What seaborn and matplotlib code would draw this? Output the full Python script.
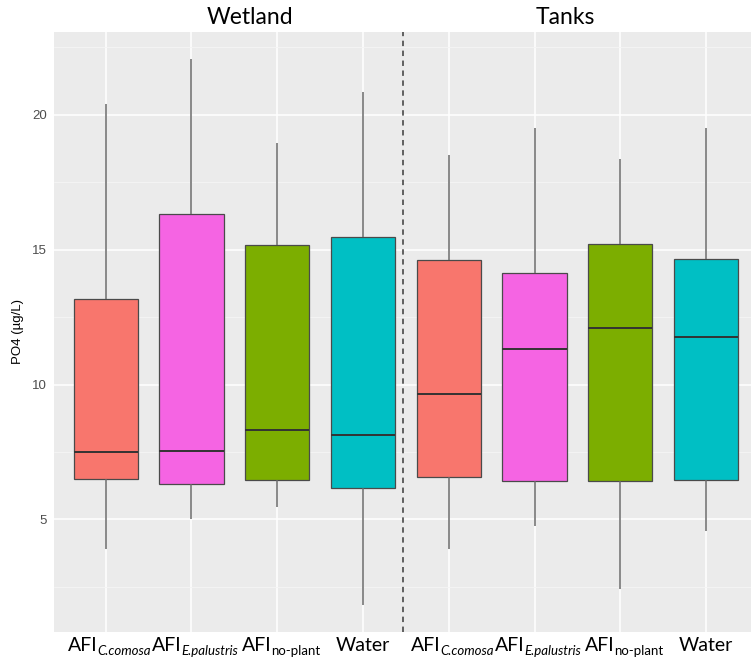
import numpy as np
import pandas as pd
import matplotlib
matplotlib.use("Agg")
import matplotlib.pyplot as plt
from matplotlib.ticker import MultipleLocator
from matplotlib.transforms import ScaledTranslation
import seaborn as sns

# PO4 concentration summaries (µg/L) per treatment, wetland and tank systems
systems = ["Wetland"] * 4 + ["Tanks"] * 4
treatments = ["C.comosa", "E.palustris", "no-plant", "Water"] * 2
lower = [3.91, 5.01, 5.45, 1.82, 3.91, 4.77, 2.41, 4.57]
q1 = [6.50, 6.31, 6.46, 6.15, 6.56, 6.43, 6.41, 6.46]
median = [7.49, 7.54, 8.32, 8.15, 9.67, 11.32, 12.11, 11.75]
q3 = [13.16, 16.31, 15.16, 15.47, 14.63, 14.14, 15.23, 14.65]
upper = [20.39, 22.06, 18.94, 20.84, 18.53, 19.52, 18.35, 19.53]

# tick label parts: main text, subscript, subscript style
label_main = ["AFI", "AFI", "AFI", "Water"] * 2
label_sub = ["C.comosa", "E.palustris", "no-plant", ""] * 2
label_sub_style = ["italic", "italic", "normal", "normal"] * 2
colors = ["#F8766D", "#F564E3", "#7CAE00", "#00BFC4"] * 2

keys = [f"{s}|{t}" for s, t in zip(systems, treatments)]
rows = []
for k, a, b, c, d, e in zip(keys, lower, q1, median, q3, upper):
    for v in (a, b, c, d, e):
        rows.append({"group": k, "PO4": v})
df = pd.DataFrame(rows)

sns.set_theme(style="darkgrid")

DPI = 100
fig = plt.figure(figsize=(7.51, 6.59), dpi=DPI)
ax = fig.add_axes([0.0722, 0.0414, 0.9278, 0.910])
ax.set_facecolor("#EBEBEB")

sns.boxplot(data=df, x="group", y="PO4", hue="group", order=keys, hue_order=keys,
            palette=dict(zip(keys, colors)), legend=False, ax=ax, saturation=1,
            width=0.75, whis=(0, 100), showcaps=False, showfliers=False,
            linecolor="#3a3a3a", linewidth=0.9,
            boxprops=dict(edgecolor="#4a4a4a"),
            whiskerprops=dict(color="#6a6a6a", linewidth=1.1),
            medianprops=dict(color="#333333", linewidth=1.4))

ax.set_xlim(-0.6, 7.524)
ax.set_ylim(0.84, 23.07)
ax.yaxis.set_major_locator(MultipleLocator(5))
ax.yaxis.set_minor_locator(MultipleLocator(2.5))
ax.set_yticks([5, 10, 15, 20])
ax.grid(which="major", color="white", linewidth=1.1)
ax.grid(which="minor", axis="y", color="#F5F5F5", linewidth=0.6)
ax.set_axisbelow(True)
for sp in ax.spines.values():
    sp.set_visible(False)

ax.set_xticks(range(8))
ax.set_xticklabels([])
ax.tick_params(axis="x", length=3, width=0.8, color="#333333", pad=2)
ax.tick_params(axis="y", which="major", length=3, width=0.8, color="#333333",
               labelsize=9.5, labelcolor="#4D4D4D", pad=2)
ax.tick_params(axis="y", which="minor", length=0)
for lab in ax.get_yticklabels():
    lab.set_family("Liberation Sans")

ax.set_xlabel("")
ax.set_ylabel("PO4 (µg/L)", fontsize=9.5, family="Liberation Sans", color="black", labelpad=6)

# divider between the two systems
ax.axvline(3.47, color="#555555", linestyle=(0, (3, 2.5)), linewidth=1.3)

ax.text(1.68, 1.025, "Wetland", transform=ax.get_xaxis_transform(),
        ha="center", va="center", fontsize=16.5, family="Lato", color="black")
ax.text(5.36, 1.025, "Tanks", transform=ax.get_xaxis_transform(),
        ha="center", va="center", fontsize=16.5, family="Lato", color="black")

# category labels with subscripts, built from two text pieces each
fig.canvas.draw()
renderer = fig.canvas.get_renderer()
xt = ax.get_xaxis_transform()
main_drop, sub_drop, shift = 19.5, 23.5, 4.0  # pixels
for i, (m, s, st) in enumerate(zip(label_main, label_sub, label_sub_style)):
    t1 = ax.text(i, 0, m, transform=xt, fontsize=14, family="Lato",
                 ha="left", va="baseline", color="black")
    w1 = t1.get_window_extent(renderer).width
    t2, w2 = None, 0.0
    if s:
        t2 = ax.text(i, 0, s, transform=xt, fontsize=9.5, family="Lato", style=st,
                     ha="left", va="baseline", color="black")
        w2 = t2.get_window_extent(renderer).width
    start = -(w1 + w2) / 2 + (shift if s else 0.0)
    t1.set_transform(xt + ScaledTranslation(start / DPI, -main_drop / DPI, fig.dpi_scale_trans))
    if t2 is not None:
        t2.set_transform(xt + ScaledTranslation((start + w1 - 0.5) / DPI, -sub_drop / DPI,
                                                fig.dpi_scale_trans))

fig.savefig("out.png", dpi=DPI, facecolor="white")
